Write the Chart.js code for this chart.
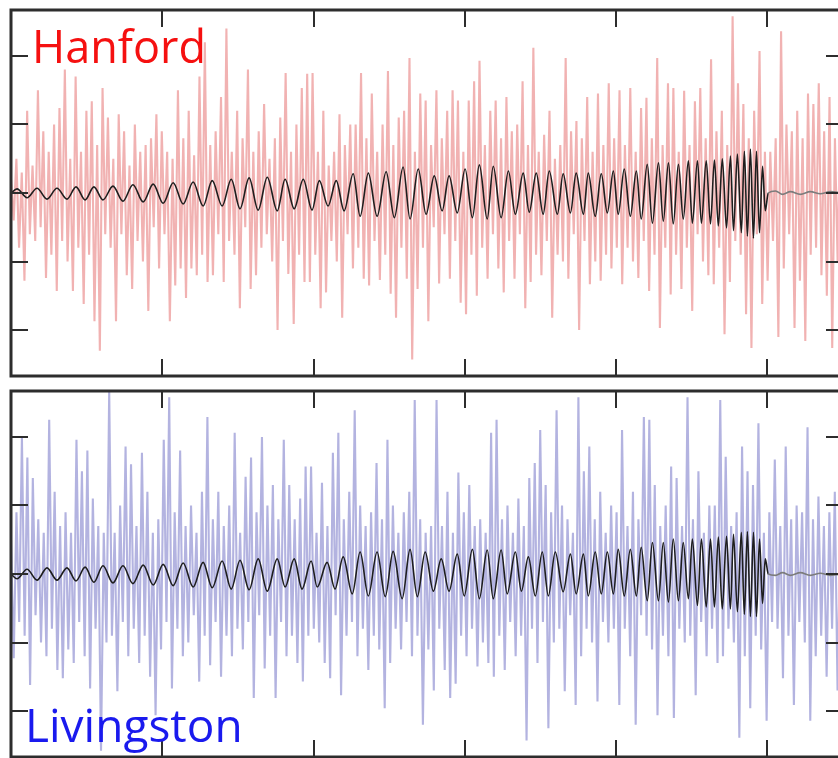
<!DOCTYPE html>
<html>
<head>
<meta charset="utf-8">
<script src="https://cdn.jsdelivr.net/npm/chart.js@4.4.1/dist/chart.umd.min.js"></script>
<style>
html,body{margin:0;padding:0;background:#fff;overflow:hidden;width:838px;height:758px}
.wrap{position:relative;width:838px;height:758px;overflow:hidden}
canvas{position:absolute;left:0}
.lbl{position:absolute;font-family:"Open Sans",sans-serif;line-height:1;white-space:nowrap}
</style>
</head>
<body>
<div class="wrap">
  <canvas id="c1" width="860" height="386" style="top:0px"></canvas>
  <canvas id="c2" width="860" height="386" style="top:381px"></canvas>
  <div class="lbl" style="left:32px;top:23px;font-size:45px;color:#f51010">Hanford</div>
  <div class="lbl" style="left:25px;top:701px;font-size:46px;color:#1a1aee">Livingston</div>
</div>
<script>
// ---- axis ticks (time in ms, strain in arbitrary units) ----
const timeTicks = [0, 50, 100, 150, 200, 250];
const strainTicks = [-2, -1, 0, 1, 2];
const timeRange = [0, 275];
const strainRange = [-2.67, 2.67];

// ---- Hanford: detector noise (uniformly sampled over the time range) ----
const hanfordNoise = [
0.2,-0.4,0.5,-0.8,0.3,-1.28,1.2,-0.6,0.4,-0.7,1.5,-0.5,0.9,-1.24,0.6,-0.9,1.0,-1.43,1.24,-0.7,1.8,-1.0,0.5,-1.43,1.7,-0.8,0.6,-1.62,1.2,-0.9,1.34,-1.87,0.7,-2.3,1.53,-0.6,
1.1,-0.8,0.5,-1.87,1.15,-0.6,0.9,-1.2,0.4,-1.4,1.0,-0.7,0.6,-1.0,0.7,-1.72,0.8,-0.5,1.15,-1.1,0.9,-0.6,0.6,-1.87,0.5,-1.35,1.5,-1.1,0.8,-1.53,1.2,-1.1,0.55,-1.2,1.7,-0.9,2.2,-1.3,
0.7,-1.2,0.9,-0.6,1.4,-1.3,2.4,-0.7,0.6,-0.9,1.2,-1.68,0.8,-0.5,1.8,-1.4,0.6,-1.2,0.9,-0.8,1.3,-0.6,0.5,-1.0,0.8,-2.0,1.1,-0.7,1.75,-1.18,0.6,-1.91,1.0,-0.9,1.53,-1.3,1.74,-1.3,
1.75,-0.9,0.6,-1.68,1.2,-1.45,0.4,-0.7,0.6,-1.0,1.15,-1.82,0.7,-0.6,1.0,-1.1,1.0,-0.8,1.75,-1.25,0.8,-1.35,1.45,-0.7,0.6,-1.27,1.0,-0.9,1.78,-1.47,0.7,-1.82,1.1,-0.8,1.2,-1.25,1.97,-2.43,
0.6,-1.4,1.45,-0.8,1.35,-1.87,0.7,-0.5,1.5,-1.32,0.8,-0.6,1.2,-1.25,1.5,-0.7,1.35,-1.6,0.6,-1.77,1.35,-0.9,1.63,-1.5,1.93,-0.8,0.7,-1.25,1.2,-0.6,1.35,-1.1,0.8,-1.45,1.4,-0.7,0.9,-1.25,1.0,-0.6,
1.63,-1.68,0.7,-1.3,2.12,-0.9,0.6,-1.2,0.85,-0.7,1.2,-1.82,0.5,-0.9,0.7,-1.0,1.97,-1.25,0.9,-0.6,1.05,-2.0,0.8,-0.7,1.4,-1.33,0.6,-1.0,1.45,-1.28,0.7,-0.9,1.6,-1.1,0.8,-0.8,
1.5,-1.33,0.7,-0.8,1.53,-1.0,0.6,-1.24,1.24,-0.7,1.39,-1.43,0.8,-0.9,1.97,-1.97,0.7,-0.8,1.6,-1.48,1.53,-0.9,0.6,-1.4,1.49,-0.8,0.7,-1.72,1.34,-0.6,1.53,-1.0,0.8,-1.2,1.95,-1.33,
0.9,-0.8,1.2,-2.06,0.7,-1.3,2.58,-0.7,1.6,-0.9,1.3,-1.77,0.8,-2.26,1.2,-0.6,2.07,-1.62,0.6,-1.28,0.6,-0.7,0.8,-2.1,2.36,-1.1,1.0,-0.6,0.9,-1.97,1.2,-1.28,0.8,-2.16,1.45,-0.9,
1.3,-0.8,1.6,-1.2,0.9,-1.5,1.4,-2.26,0.8,-1.0,1.1,-0.7
];

// ---- Livingston: detector noise ----
const livingstonNoise = [
0.5,-1.23,0.9,-0.7,2.0,-0.9,1.7,-1.62,1.4,-0.6,0.8,-1.0,0.6,-1.2,2.25,-0.8,1.2,-1.4,0.7,-1.52,0.9,-1.1,0.6,-1.3,1.96,-0.7,1.5,-1.2,1.8,-1.67,1.1,-0.8,0.7,-2.58,0.6,-1.0,
2.68,-0.9,0.6,-1.71,1.0,-0.7,1.86,-1.2,1.6,-0.8,0.7,-1.3,1.77,-0.9,1.2,-1.5,0.6,-2.06,0.8,-1.1,1.96,-0.7,2.58,-1.67,0.9,-0.8,1.8,-1.2,0.7,-1.0,1.0,-0.6,0.6,-1.57,1.2,-0.9,
2.29,-1.33,0.8,-0.7,1.2,-1.5,0.7,-0.9,1.0,-1.2,2.06,-0.8,0.6,-1.1,1.42,-0.7,1.7,-1.81,0.9,-0.6,2.0,-1.38,1.0,-0.9,1.3,-1.81,0.8,-0.7,1.96,-1.2,1.3,-0.9,0.8,-1.3,1.1,-1.57,1.57,-0.9,
1.57,-0.8,0.6,-1.0,1.33,-1.3,0.7,-1.52,1.77,-0.6,2.06,-1.77,0.8,-0.9,1.2,-0.7,2.39,-1.2,1.0,-0.8,0.7,-1.4,0.9,-0.9,1.62,-1.1,0.8,-1.96,1.96,-1.3,1.0,-0.8,0.6,-1.1,0.9,-0.7,1.2,-1.2,
2.54,-0.9,0.8,-2.2,0.6,-1.1,0.7,-1.7,2.54,-0.8,0.7,-1.4,1.2,-1.81,0.6,-1.6,1.48,-0.9,0.9,-1.2,1.3,-0.8,0.7,-1.35,0.8,-1.0,0.6,-1.3,2.06,-1.5,2.25,-0.9,0.8,-1.4,1.0,-0.7,0.6,-1.2,
1.1,-0.9,0.7,-2.43,1.4,-0.8,1.62,-1.3,2.1,-0.7,1.3,-2.25,0.9,-1.0,2.39,-0.8,1.0,-1.71,0.8,-0.6,0.6,-1.91,2.58,-1.2,1.5,-0.8,1.86,-1.0,0.8,-1.86,1.2,-0.7,0.6,-1.0,1.0,-0.8,
0.9,-1.91,2.1,-0.8,0.7,-1.2,1.2,-2.2,0.8,-0.6,2.29,-0.9,2.25,-1.1,1.3,-2.06,0.7,-0.9,1.0,-1.2,1.57,-2.1,1.4,-0.8,0.7,-1.0,2.58,-0.9,0.8,-1.77,1.5,-0.7,0.6,-1.2,1.0,-0.8,
1.0,-1.3,2.54,-1.2,1.71,-0.8,0.7,-1.0,0.9,-2.39,1.86,-1.2,1.5,-1.96,1.3,-0.9,2.2,-1.1,0.6,-2.14,0.9,-0.7,1.67,-0.8,0.7,-1.52,1.86,-0.9,0.8,-1.91,1.0,-0.7,0.9,-1.0,2.14,-2.14,
0.8,-1.2,1.13,-0.9,0.7,-1.5,0.9,-0.8,1.2,-1.7,0.6,-1.0
];

// ---- Hanford: reconstructed chirp (times of turning points, ms) ----
const hanfordChirpT = [0,2.0,5.3,8.6,11.9,15.2,18.5,21.5,24.5,27.4,30.4,33.7,37.0,40.3,43.7,47.0,50.3,53.6,56.9,60.2,63.5,66.5,69.8,72.8,75.7,78.7,81.7,84.7,88.0,90.6,93.6,96.6,99.5,101.9,104.8,107.5,110.1,113.1,115.4,118.1,121.0,124.0,126.7,129.6,131.9,134.6,137.2,139.9,142.5,144.8,147.5,150.1,152.5,154.8,157.4,159.4,162.0,164.4,166.7,169.3,171.3,173.6,175.9,177.9,180.6,182.5,184.9,186.8,189.2,190.8,193.1,195.1,197.1,199.1,200.7,202.7,204.7,206.7,208.3,210.3,212.0,214.0,215.6,217.3,218.9,220.6,222.2,223.9,225.2,226.9,228.2,229.8,231.2,232.5,233.8,235.1,236.5,237.8,238.8,240.1,241.4,242.4,243.4,244.4,245.4,246.4,247.4,248.4,249.3,250.3,252.7,255.0,257.6,260.9,264.2,267.5,270.8,275];
const hanfordChirpH = [0,0.06,-0.07,0.07,-0.09,0.07,-0.09,0.09,-0.10,0.09,-0.10,0.10,-0.12,0.12,-0.13,0.13,-0.15,0.15,-0.16,0.16,-0.19,0.18,-0.19,0.20,-0.23,0.22,-0.25,0.23,-0.26,0.20,-0.23,0.20,-0.25,0.18,-0.19,0.18,-0.26,0.28,-0.34,0.29,-0.34,0.31,-0.36,0.38,-0.38,0.35,-0.31,0.25,-0.26,0.25,-0.29,0.35,-0.36,0.41,-0.38,0.39,-0.36,0.32,-0.31,0.29,-0.28,0.29,-0.31,0.32,-0.31,0.28,-0.29,0.29,-0.31,0.29,-0.34,0.28,-0.29,0.32,-0.31,0.35,-0.34,0.32,-0.38,0.42,-0.44,0.44,-0.41,0.44,-0.45,0.42,-0.38,0.47,-0.44,0.47,-0.44,0.47,-0.45,0.48,-0.48,0.50,-0.51,0.54,-0.55,0.57,-0.58,0.61,-0.63,0.64,-0.66,0.61,-0.58,0.39,-0.26,0,0.03,-0.02,0.02,-0.02,0.02,-0.01,0.02,0];

// ---- Livingston: reconstructed chirp ----
const livingstonChirpT = [0,2.0,5.3,8.6,11.9,15.2,18.5,21.5,24.5,27.4,30.4,33.7,37.0,40.3,43.7,47.0,50.3,53.6,56.9,60.2,63.5,66.5,69.8,72.8,75.7,78.7,81.7,84.7,88.0,90.6,93.6,96.2,99.2,101.2,104.5,107.1,109.8,112.8,115.4,118.1,121.0,123.7,126.3,129.3,131.9,134.3,136.9,139.6,142.2,144.8,147.5,149.8,152.5,154.8,157.4,159.4,162.0,164.0,166.7,168.7,171.0,173.3,175.6,177.6,179.9,182.5,184.9,186.8,189.2,190.8,193.1,195.1,197.1,199.1,200.7,202.7,204.7,206.7,208.3,210.3,212.0,214.0,215.6,217.3,218.9,220.6,222.2,223.9,225.2,226.9,228.2,229.8,231.2,232.5,233.8,235.1,236.5,237.8,238.8,240.1,241.4,242.4,243.4,244.4,245.4,246.4,247.4,248.4,249.3,250.3,252.7,255.0,257.6,260.9,264.2,267.5,270.8,275];
const livingstonChirpH = [0,-0.07,0.07,-0.09,0.09,-0.09,0.09,-0.10,0.10,-0.12,0.12,-0.13,0.12,-0.14,0.13,-0.16,0.14,-0.17,0.16,-0.19,0.17,-0.20,0.19,-0.22,0.20,-0.23,0.22,-0.25,0.22,-0.19,0.22,-0.22,0.19,-0.19,0.17,-0.22,0.25,-0.29,0.32,-0.32,0.32,-0.33,0.33,-0.36,0.36,-0.33,0.32,-0.25,0.22,-0.25,0.29,-0.32,0.36,-0.36,0.35,-0.36,0.35,-0.29,0.32,-0.25,0.25,-0.32,0.32,-0.32,0.32,-0.26,0.29,-0.29,0.29,-0.32,0.32,-0.29,0.32,-0.29,0.36,-0.32,0.36,-0.32,0.39,-0.39,0.46,-0.39,0.46,-0.41,0.51,-0.39,0.46,-0.36,0.51,-0.46,0.51,-0.48,0.51,-0.48,0.54,-0.51,0.55,-0.51,0.58,-0.55,0.61,-0.59,0.62,-0.62,0.61,-0.62,0.51,-0.43,0.22,0,-0.02,0.02,-0.02,0.02,-0.02,0.01,-0.02,0];

const MERGER_T = 250;

function noisePoints(arr){
  const step = (timeRange[1]-timeRange[0])/(arr.length-1);
  return arr.map((v,i)=>({x: timeRange[0]+i*step, y: v}));
}
function chirpPoints(ts, hs){ return ts.map((t,i)=>({x:t, y:hs[i]})); }

const frameTicks = {
  id: 'frameTicks',
  afterDatasetsDraw(chart){
    const {ctx, chartArea:a, scales:{x, y}} = chart;
    const L = 17;
    ctx.save();
    ctx.strokeStyle = '#2d2d2d';
    ctx.lineWidth = 2;
    ctx.beginPath();
    timeTicks.forEach(t=>{
      const px = Math.round(x.getPixelForValue(t));
      ctx.moveTo(px, a.top); ctx.lineTo(px, a.top+L);
      ctx.moveTo(px, a.bottom); ctx.lineTo(px, a.bottom-L);
    });
    strainTicks.forEach(s=>{
      const py = Math.round(y.getPixelForValue(s));
      ctx.moveTo(a.left, py); ctx.lineTo(a.left+L, py);
      ctx.moveTo(a.right, py); ctx.lineTo(a.right-L, py);
    });
    ctx.stroke();
    ctx.lineWidth = 3;
    ctx.strokeRect(a.left, a.top, a.right-a.left, a.bottom-a.top);
    ctx.restore();
  }
};

function makeChart(id, noise, chirpT, chirpH, noiseColor){
  return new Chart(document.getElementById(id), {
    type: 'line',
    data: {
      datasets: [
        {
          data: chirpPoints(chirpT, chirpH),
          borderColor: '#1e1e1e',
          borderWidth: 1.6,
          pointRadius: 0,
          cubicInterpolationMode: 'monotone',
          order: 1,
          segment: { borderColor: c => c.p0.parsed.x >= MERGER_T ? '#7c7c7c' : undefined }
        },
        {
          data: noisePoints(noise),
          borderColor: noiseColor,
          borderWidth: 2.1,
          pointRadius: 0,
          tension: 0,
          order: 2
        }
      ]
    },
    options: {
      responsive: false,
      animation: false,
      devicePixelRatio: 1,
      events: [],
      layout: { padding: { left: 11, top: 10, right: 17, bottom: 10 } },
      plugins: { legend: { display: false }, tooltip: { enabled: false } },
      scales: {
        x: { type: 'linear', min: timeRange[0], max: timeRange[1], display: false },
        y: { type: 'linear', min: strainRange[0], max: strainRange[1], display: false }
      }
    },
    plugins: [frameTicks]
  });
}

makeChart('c1', hanfordNoise, hanfordChirpT, hanfordChirpH, 'rgba(232,130,130,0.62)');
makeChart('c2', livingstonNoise, livingstonChirpT, livingstonChirpH, 'rgba(132,132,205,0.62)');
</script>
</body>
</html>
